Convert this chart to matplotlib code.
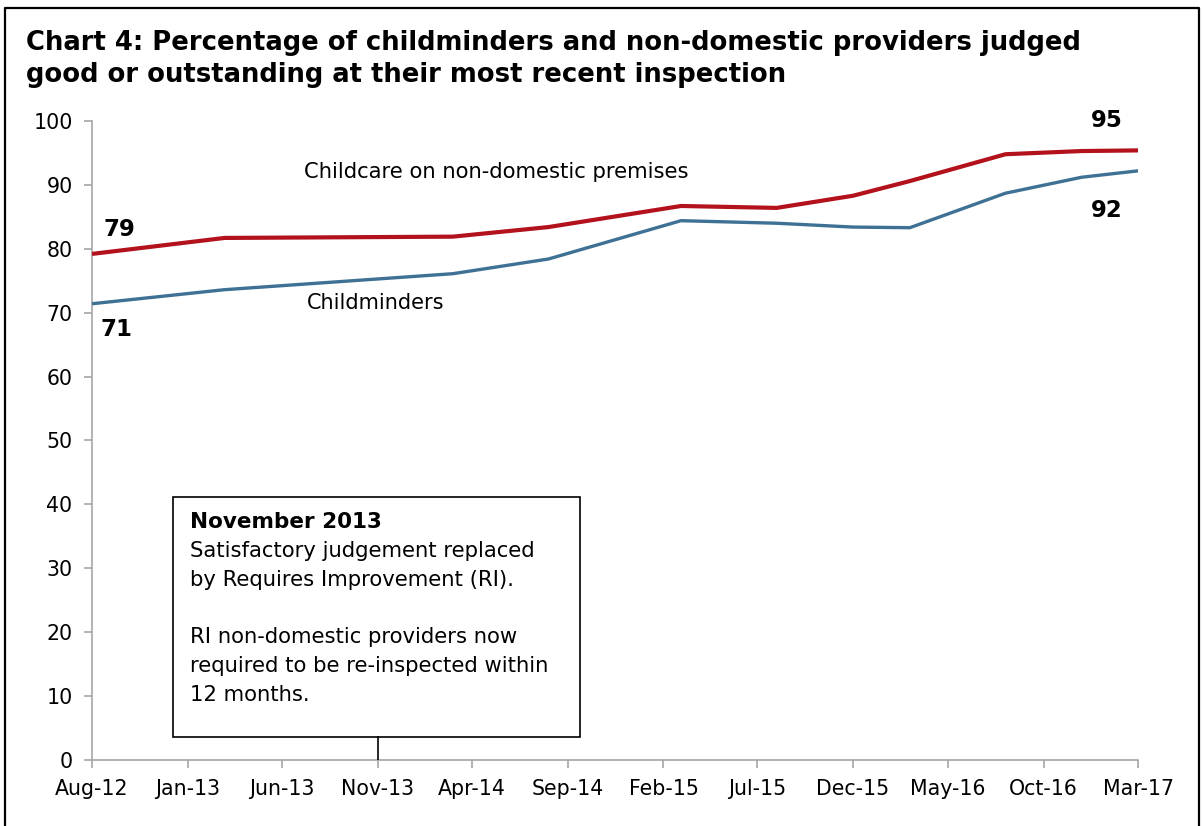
import matplotlib
matplotlib.use("Agg")
import matplotlib.pyplot as plt
import matplotlib.dates as mdates
import pandas as pd
from matplotlib.patches import Rectangle
from matplotlib.lines import Line2D

# ------------------------- DATA -------------------------
dates = ["2012-08-01", "2013-03-01", "2014-03-01", "2014-08-01", "2015-03-01",
         "2015-08-01", "2015-12-01", "2016-03-01", "2016-08-01", "2016-12-01",
         "2017-03-01"]
non_domestic = [79.2, 81.7, 81.9, 83.4, 86.7, 86.4, 88.3, 90.6, 94.8, 95.3, 95.4]
childminders = [71.4, 73.6, 76.1, 78.4, 84.4, 84.0, 83.4, 83.3, 88.7, 91.2, 92.2]
tick_labels = ["Aug-12", "Jan-13", "Jun-13", "Nov-13", "Apr-14", "Sep-14",
               "Feb-15", "Jul-15", "Dec-15", "May-16", "Oct-16", "Mar-17"]
y_ticks = [0, 10, 20, 30, 40, 50, 60, 70, 80, 90, 100]

x = pd.to_datetime(dates)
tick_dates = pd.to_datetime(tick_labels, format="%b-%y")

RED = "#B3121D"
BLUE = "#3F7195"
GREY = "#A6A6A6"

fig = plt.figure(figsize=(12.03, 8.26), dpi=100)
ax = fig.add_axes([0.0765, 0.080, 0.8695, 0.7735])

# outer frame
fig.add_artist(Line2D([0.0045, 0.0045, 0.9965, 0.9965], [0, 0.990, 0.990, 0],
                      transform=fig.transFigure, color="black", lw=1.6))

# ------------------------- LINES -------------------------
ax.plot(x, non_domestic, color=RED, lw=3.0, solid_capstyle="butt", zorder=3)
ax.plot(x, childminders, color=BLUE, lw=2.4, solid_capstyle="butt", zorder=3)

ax.set_xlim(tick_dates[0], tick_dates[-1])
ax.set_ylim(0, 100)
ax.set_xticks(tick_dates)
ax.set_xticklabels(tick_labels)
ax.set_yticks(y_ticks)

for s in ["top", "right"]:
    ax.spines[s].set_visible(False)
for s in ["left", "bottom"]:
    ax.spines[s].set_color(GREY)
    ax.spines[s].set_linewidth(1.2)
ax.tick_params(axis="both", colors=GREY, length=6, width=1.2, labelcolor="black",
               labelsize=14.8)
ax.tick_params(axis="x", pad=8)
ax.tick_params(axis="y", pad=8)

# end labels
bold = dict(fontsize=16.5, fontweight="bold", color="black")
ax.annotate("79", (x[0], non_domestic[0]), xytext=(8, 9), textcoords="offset points",
            ha="left", va="bottom", **bold)
ax.annotate("71", (x[0], childminders[0]), xytext=(6, -10), textcoords="offset points",
            ha="left", va="top", **bold)
ax.annotate("95", (x[-1], non_domestic[-1]), xytext=(-11, 13), textcoords="offset points",
            ha="right", va="bottom", **bold)
ax.annotate("92", (x[-1], childminders[-1]), xytext=(-11, -20), textcoords="offset points",
            ha="right", va="top", **bold)

# series labels
ax.text(0.203, 0.920, "Childcare on non-domestic premises", transform=ax.transAxes,
        fontsize=15.2, ha="left", va="center")
ax.text(0.205, 0.715, "Childminders", transform=ax.transAxes,
        fontsize=15.0, ha="left", va="center")

# annotation box
box_x0 = (173 - 92) / (1138 - 92)
box_x1 = (580 - 92) / (1138 - 92)
box_y0 = (760 - 737) / (760 - 121)
box_y1 = (760 - 497) / (760 - 121)
ax.add_patch(Rectangle((box_x0, box_y0), box_x1 - box_x0, box_y1 - box_y0,
                       transform=ax.transAxes, fill=True, facecolor="white",
                       edgecolor="black", lw=1.2, zorder=4))
nov13 = mdates.date2num(pd.Timestamp("2013-11-01"))
ax.plot([nov13, nov13], [0, box_y0 * 100], color="black", lw=1.2, zorder=4)
ax.text(box_x0 + 0.016, (760 - 522) / 639, "November 2013", transform=ax.transAxes,
        fontsize=15.5, fontweight="bold", ha="left", va="center", zorder=5)
ax.text(box_x0 + 0.016, (760 - 541) / 639,
        "Satisfactory judgement replaced\nby Requires Improvement (RI).\n\n"
        "RI non-domestic providers now\nrequired to be re-inspected within\n12 months.",
        transform=ax.transAxes, fontsize=15.2, ha="left", va="top", linespacing=1.55, zorder=5)

# title
fig.text(0.022, 0.929, "Chart 4: Percentage of childminders and non-domestic providers judged\n"
         "good or outstanding at their most recent inspection",
         fontsize=18.65, fontweight="bold", ha="left", va="center", linespacing=1.3)

fig.savefig("out.png", dpi=100)
